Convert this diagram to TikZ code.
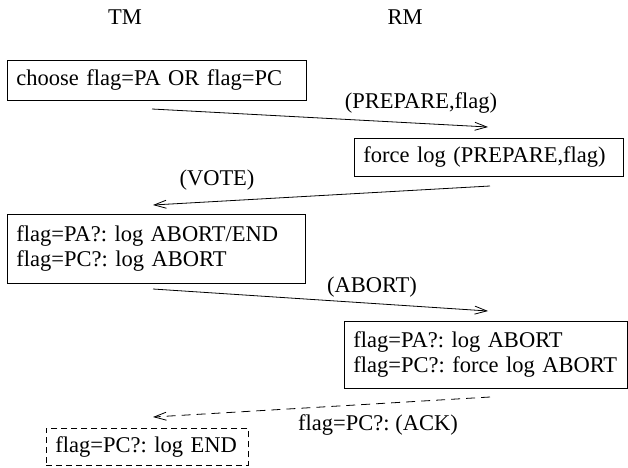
\documentclass[tikz,border=0pt]{standalone}
\usepackage{fontspec}
\setmainfont{Liberation Serif}
\usetikzlibrary{arrows.meta}
\begin{document}
\frenchspacing
\begin{tikzpicture}[x=1pt,y=-1pt,
  every node/.style={font=\fontsize{22.5}{25}\selectfont, inner sep=0pt},
  box/.style={draw, line width=0.8pt, anchor=north west, align=left, inner xsep=9pt, inner ysep=0pt},
  msg/.style={line width=0.8pt, -{Straight Barb[length=12pt,width=8pt]}},
  lbl/.style={anchor=center}]
\useasboundingbox (0,0) rectangle (628,467);
\node (tm) at (125,17) {TM};
\node (rm) at (405,17) {RM};
\node[box, text width=281pt, minimum height=40pt] (b1) at (7,60) {choose flag=PA OR flag=PC};
\node[box, text width=251pt, minimum height=38pt] (b2) at (354,138) {force log (PREPARE,flag)};
\node[box, text width=280pt, minimum height=69pt] (b3) at (7,214) {flag=PA?: log ABORT/END\\flag=PC?: log ABORT};
\node[box, text width=265pt, minimum height=67pt] (b4) at (344,321) {flag=PA?: log ABORT\\flag=PC?: force log ABORT};
\node[box, dashed, dash pattern=on 6pt off 4pt, text width=184pt, minimum height=37pt] (b5) at (46,428) {flag=PC?: log END};
\coordinate (m1s) at (152,109);
\coordinate (m1e) at (488,127);
\coordinate (m2s) at (490,186);
\coordinate (m2e) at (153,205);
\coordinate (m3s) at (153,289);
\coordinate (m3e) at (488,311);
\coordinate (m4s) at (490,397);
\coordinate (m4e) at (153,417);
\draw[msg] (m1s) -- (m1e);
\draw[msg] (m2s) -- (m2e);
\draw[msg] (m3s) -- (m3e);
\draw[msg, dash pattern=on 9pt off 6pt] (m4s) -- (m4e);
\node[lbl] (l1) at (421,103) {(PREPARE,flag)};
\node[lbl] (l2) at (217,180) {(VOTE)};
\node[lbl] (l3) at (372,287) {(ABORT)};
\node[lbl] (l4) at (378,425) {flag=PC?: (ACK)};
\end{tikzpicture}
\end{document}
